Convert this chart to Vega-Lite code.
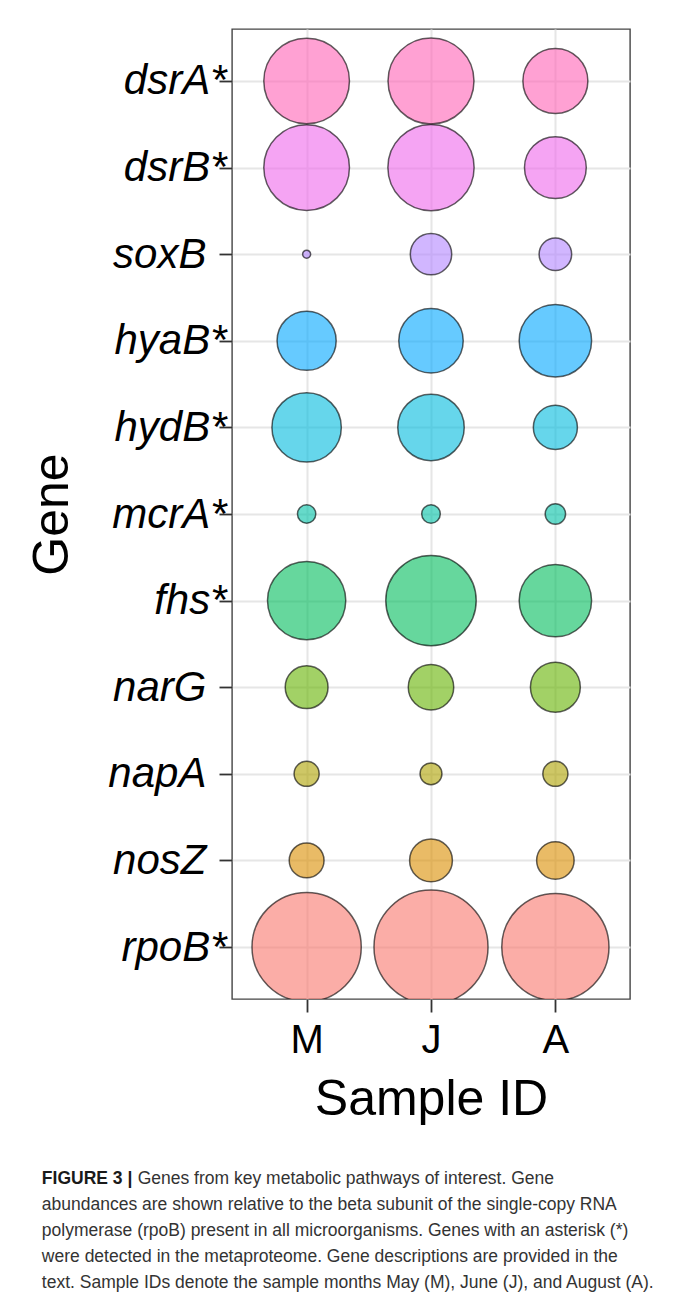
{
  "$schema": "https://vega.github.io/schema/vega-lite/v6.json",
  "width": 398,
  "height": 970,
  "autosize": {"type": "none"},
  "padding": {"left": 232, "top": 29, "right": 43, "bottom": 299},
  "background": "white",
  "config": {
    "font": "Liberation Sans",
    "view": {"stroke": "#444444", "strokeWidth": 1.4},
    "axis": {"grid": true, "gridColor": "#E6E6E6", "gridWidth": 2, "domain": false, "tickColor": "#333333", "tickWidth": 1.8, "tickSize": 13, "labelColor": "black", "titleColor": "black", "titleFontWeight": "normal"}
  },
  "data": {"values": [
    {"gene": "dsrA*", "sample": "M", "value": 0.598},
    {"gene": "dsrA*", "sample": "J", "value": 0.602},
    {"gene": "dsrA*", "sample": "A", "value": 0.344},
    {"gene": "dsrB*", "sample": "M", "value": 0.598},
    {"gene": "dsrB*", "sample": "J", "value": 0.606},
    {"gene": "dsrB*", "sample": "A", "value": 0.311},
    {"gene": "soxB", "sample": "M", "value": 0.0052},
    {"gene": "soxB", "sample": "J", "value": 0.1396},
    {"gene": "soxB", "sample": "A", "value": 0.0862},
    {"gene": "hyaB*", "sample": "M", "value": 0.2847},
    {"gene": "hyaB*", "sample": "J", "value": 0.3383},
    {"gene": "hyaB*", "sample": "A", "value": 0.4272},
    {"gene": "hydB*", "sample": "M", "value": 0.3924},
    {"gene": "hydB*", "sample": "J", "value": 0.36},
    {"gene": "hydB*", "sample": "A", "value": 0.1581},
    {"gene": "mcrA*", "sample": "M", "value": 0.0274},
    {"gene": "mcrA*", "sample": "J", "value": 0.0282},
    {"gene": "mcrA*", "sample": "A", "value": 0.0339},
    {"gene": "fhs*", "sample": "M", "value": 0.499},
    {"gene": "fhs*", "sample": "J", "value": 0.6659},
    {"gene": "fhs*", "sample": "A", "value": 0.4272},
    {"gene": "narG", "sample": "M", "value": 0.1493},
    {"gene": "narG", "sample": "J", "value": 0.1684},
    {"gene": "narG", "sample": "A", "value": 0.2029},
    {"gene": "napA", "sample": "M", "value": 0.0513},
    {"gene": "napA", "sample": "J", "value": 0.039},
    {"gene": "napA", "sample": "A", "value": 0.0513},
    {"gene": "nosZ", "sample": "M", "value": 0.0988},
    {"gene": "nosZ", "sample": "J", "value": 0.1493},
    {"gene": "nosZ", "sample": "A", "value": 0.1145},
    {"gene": "rpoB*", "sample": "M", "value": 0.973},
    {"gene": "rpoB*", "sample": "J", "value": 1.06},
    {"gene": "rpoB*", "sample": "A", "value": 0.937}
  ]},
  "title": {
    "text": "FIGURE 3 |",
    "subtitle": [
      "\u200b\u2003\u2003\u2003\u2003\u2003\u00a0\u2009Genes from key metabolic pathways of interest. Gene",
      "abundances are shown relative to the beta subunit of the single-copy RNA",
      "polymerase (rpoB) present in all microorganisms. Genes with an asterisk (*)",
      "were detected in the metaproteome. Gene descriptions are provided in the",
      "text. Sample IDs denote the sample months May (M), June (J), and August (A)."
    ],
    "orient": "bottom",
    "anchor": "start",
    "frame": "bounds",
    "offset": 46,
    "dx": 14,
    "font": "Liberation Sans",
    "fontSize": 17.5,
    "fontWeight": "bold",
    "color": "#1a1a1a",
    "subtitleFont": "Liberation Sans",
    "subtitleFontSize": 17.5,
    "subtitleColor": "#333333",
    "subtitleLineHeight": 26,
    "subtitlePadding": -17.5
  },
  "mark": {"type": "point", "filled": true, "clip": true, "opacity": 1, "fillOpacity": 0.6, "stroke": "black", "strokeOpacity": 0.62, "strokeWidth": 1.5},
  "encoding": {
    "x": {"field": "sample", "type": "nominal", "sort": ["M", "J", "A"], "scale": {"type": "point", "padding": 0.6},
      "axis": {"title": "Sample ID", "titleFontSize": 50, "titlePadding": 14, "labelFontSize": 40, "labelPadding": 8, "labelAngle": 0}},
    "y": {"field": "gene", "type": "nominal", "sort": ["dsrA*", "dsrB*", "soxB", "hyaB*", "hydB*", "mcrA*", "fhs*", "narG", "napA", "nosZ", "rpoB*"], "scale": {"type": "point", "padding": 0.6},
      "axis": {"title": "Gene", "titleFontSize": 50, "titlePadding": 30, "labelFontSize": 42, "labelFontStyle": "italic", "labelPadding": -7,
        "labelExpr": "indexof(datum.value, '*') >= 0 ? datum.value : datum.value + '\u00a0\u2009\u200b'"}},
    "size": {"field": "value", "type": "quantitative", "scale": {"type": "linear", "domain": [0, 1], "range": [0, 12272], "zero": true}, "legend": null},
    "color": {"field": "gene", "type": "nominal",
      "scale": {"domain": ["dsrA*", "dsrB*", "soxB", "hyaB*", "hydB*", "mcrA*", "fhs*", "narG", "napA", "nosZ", "rpoB*"],
        "range": ["#FF63B6", "#EF67EB", "#B385FF", "#00A6FF", "#00BADE", "#00C1A7", "#00BD5C", "#64B200", "#AEA200", "#DB8E00", "#F8766D"]},
      "legend": null}
  }
}
